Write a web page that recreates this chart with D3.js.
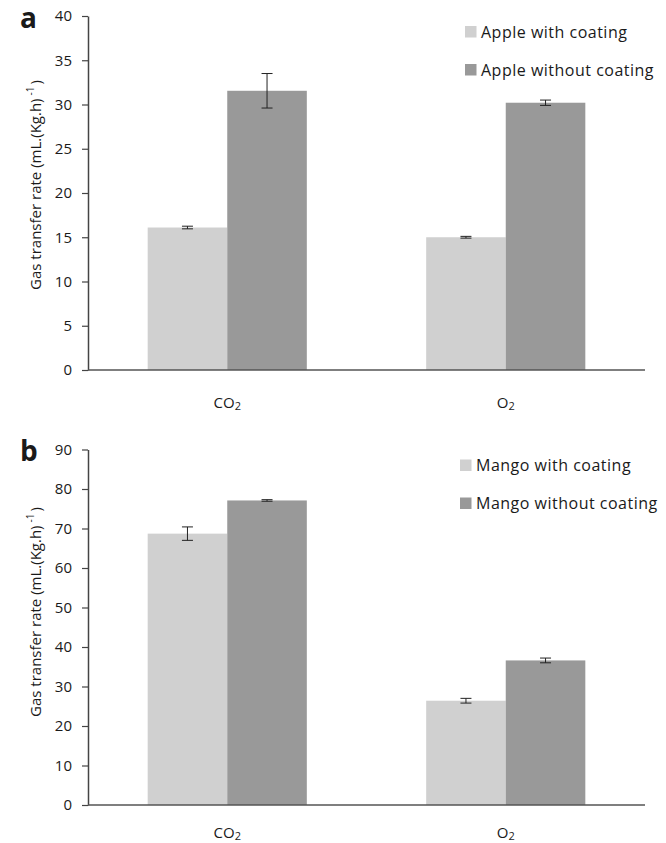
<!DOCTYPE html>
<html>
<head>
<meta charset="utf-8">
<script src="https://cdn.jsdelivr.net/npm/d3@7"></script>
<style>
  body { margin: 0; background: #fff; }
  svg text { font-family: "Open Sans", sans-serif; fill: #1a1a1a; }
</style>
</head>
<body>
<div id="chart"></div>
<script>
// data
const categories = ['CO2', 'O2']

const appleWith = [16.1, 15.0]
const appleWithErr = [0.15, 0.1]
const appleWithout = [31.55, 30.2]
const appleWithoutErr = [1.95, 0.3]

const mangoWith = [68.7, 26.4]
const mangoWithErr = [1.7, 0.6]
const mangoWithout = [77.1, 36.6]
const mangoWithoutErr = [0.2, 0.6]

const ticksA = [0, 5, 10, 15, 20, 25, 30, 35, 40]
const ticksB = [0, 10, 20, 30, 40, 50, 60, 70, 80, 90]

// canvas
const width = 666,
  height = 843,
  left = 88,
  right = 645

const colors = ['#d0d0d0', '#999999']

let svg = d3.select('#chart')
  .append('svg')
  .attr('width', width)
  .attr('height', height)

let drawPanel = (p) => {
  const x0 = d3.scaleBand()
    .domain(categories)
    .range([left, right])

  const x1 = d3.scaleBand()
    .domain([0, 1])
    .range([0, x0.bandwidth()])
    .paddingOuter(0.75)

  const y = d3.scaleLinear()
    .domain([0, p.max])
    .range([p.bottom, p.top])

  const rows = []
  categories.forEach((c, i) => {
    rows.push({ cat: c, s: 0, v: p.series[0][i], e: p.errors[0][i] })
    rows.push({ cat: c, s: 1, v: p.series[1][i], e: p.errors[1][i] })
  })

  const g = svg.append('g')

  g.selectAll('rect.bar')
    .data(rows)
    .enter()
    .append('rect')
    .attr('class', 'bar')
    .attr('x', d => x0(d.cat) + x1(d.s))
    .attr('y', d => y(d.v))
    .attr('width', x1.bandwidth())
    .attr('height', d => y(0) - y(d.v))
    .attr('fill', d => colors[d.s])

  // error bars
  const cap = 5.5
  const cx = d => x0(d.cat) + x1(d.s) + x1.bandwidth() / 2
  const eb = g.selectAll('g.err')
    .data(rows)
    .enter()
    .append('g')
    .attr('class', 'err')
    .attr('stroke', '#222')
    .attr('stroke-width', 1)
  eb.append('line')
    .attr('x1', cx)
    .attr('x2', cx)
    .attr('y1', d => y(d.v + d.e))
    .attr('y2', d => y(d.v - d.e))
  eb.append('line')
    .attr('x1', d => cx(d) - cap)
    .attr('x2', d => cx(d) + cap)
    .attr('y1', d => y(d.v + d.e))
    .attr('y2', d => y(d.v + d.e))
  eb.append('line')
    .attr('x1', d => cx(d) - cap)
    .attr('x2', d => cx(d) + cap)
    .attr('y1', d => y(d.v - d.e))
    .attr('y2', d => y(d.v - d.e))

  // y axis
  const yAx = g.append('g')
    .attr('transform', `translate(${left},0)`)
    .call(d3.axisLeft(y).tickValues(p.ticks).tickSize(6).tickPadding(10).tickSizeOuter(0))
  yAx.select('.domain').attr('stroke', '#444').attr('stroke-width', 1.5)
  yAx.selectAll('.tick line').attr('stroke', '#444').attr('stroke-width', 1.2)
  yAx.selectAll('.tick text')
    .attr('font-family', '"Open Sans", sans-serif')
    .attr('font-size', 15)
    .attr('fill', '#1a1a1a')

  // x axis line
  g.append('line')
    .attr('x1', left)
    .attr('x2', right)
    .attr('y1', y(0))
    .attr('y2', y(0))
    .attr('stroke', '#555')
    .attr('stroke-width', 1.5)

  // category labels with subscript
  const lab = g.selectAll('text.cat')
    .data(categories)
    .enter()
    .append('text')
    .attr('class', 'cat')
    .attr('x', d => x0(d) + x0.bandwidth() / 2)
    .attr('y', p.labelY)
    .attr('text-anchor', 'middle')
    .attr('font-size', 15)
  lab.append('tspan').text(d => d.slice(0, -1))
  lab.append('tspan').attr('font-size', 11).attr('dy', 2).text(d => d.slice(-1))

  // y title
  const t = g.append('text')
    .attr('transform', `translate(41,${p.titleY}) rotate(-90)`)
    .attr('text-anchor', 'middle')
    .attr('font-size', 15)
  t.append('tspan').text('Gas transfer rate (mL.(Kg.h)')
  t.append('tspan').attr('font-size', 10).attr('dy', -7).attr('dx', 3).text('-1')
  t.append('tspan').attr('dy', 7).attr('dx', 2).text(')')

  // panel letter
  g.append('text')
    .attr('x', 20)
    .attr('y', p.letterY)
    .attr('font-family', 'Arial, "Liberation Sans", sans-serif')
    .attr('font-weight', 'bold')
    .attr('font-size', 28)
    .text(p.letter)

  // legend
  const lg = g.selectAll('g.leg')
    .data(p.names)
    .enter()
    .append('g')
    .attr('class', 'leg')
    .attr('transform', (d, i) => `translate(${p.legX},${p.legY + i * 38})`)
  lg.append('rect')
    .attr('width', 11.5)
    .attr('height', 11.5)
    .attr('fill', (d, i) => colors[i])
  lg.append('text')
    .attr('x', 16)
    .attr('y', 11.5)
    .attr('font-size', 16)
    .attr('letter-spacing', 0.5)
    .text(d => d)
}

drawPanel({
  letter: 'a', letterY: 28,
  top: 16, bottom: 370, max: 40, ticks: ticksA, titleY: 185,
  series: [appleWith, appleWithout], errors: [appleWithErr, appleWithoutErr],
  names: ['Apple with coating', 'Apple without coating'],
  legX: 465, legY: 26, labelY: 408
})

drawPanel({
  letter: 'b', letterY: 461,
  top: 449.5, bottom: 805, max: 90, ticks: ticksB, titleY: 612,
  series: [mangoWith, mangoWithout], errors: [mangoWithErr, mangoWithoutErr],
  names: ['Mango with coating', 'Mango without coating'],
  legX: 460, legY: 459.5, labelY: 838
})
</script>
</body>
</html>
